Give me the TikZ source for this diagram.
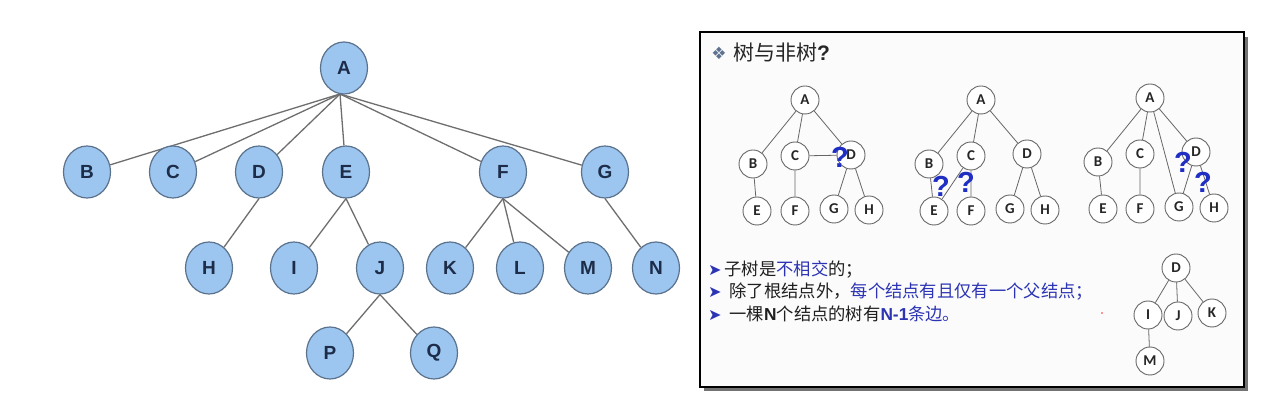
\documentclass[tikz,border=0pt]{standalone}
\usepackage{fontspec}
\setmainfont{Liberation Sans}
\newfontfamily\cjk{Noto Sans CJK SC}
\newfontfamily\djv{DejaVu Sans}
\newfontfamily\calb{Carlito}
\usetikzlibrary{shapes.geometric}
\pgfdeclarelayer{bgzero}
\pgfdeclarelayer{edgelayer}
\pgfsetlayers{bgzero,edgelayer,main}
\definecolor{nodeblue}{HTML}{9CC6F0}
\definecolor{nodeborder}{HTML}{5B728C}
\definecolor{navy}{HTML}{1D2C48}
\definecolor{edgegray}{HTML}{6E6E6E}
\definecolor{qblue}{HTML}{1F2FC4}
\definecolor{tblue}{HTML}{2C34B4}
\definecolor{orn}{HTML}{5E7290}
\tikzset{
  big/.style={ellipse, minimum width=47, minimum height=52, inner sep=0, fill=nodeblue, draw=nodeborder, line width=1.2, text=navy, font=\fontsize{19}{19}\selectfont\bfseries},
  ledge/.style={draw=edgegray, line width=1.3},
  sm/.style={circle, minimum size=28, inner sep=0, fill=white, draw=black!60, line width=0.9, text=black!85, font=\calb\fontsize{15}{15}\selectfont\bfseries},
  sedge/.style={draw=black!60, line width=0.8},
  qm/.style={text=qblue, inner sep=0, font=\fontsize{29}{29}\selectfont\bfseries},
  txt/.style={anchor=west, inner sep=0, text=black!88, font=\cjk\fontsize{17.3}{17.3}\selectfont},
  bul/.style={}
}
\newcommand{\bulmark}{{\djv\color{tblue}\fontsize{16}{16}\selectfont ➤}}
\begin{document}
\begin{tikzpicture}[x=1pt,y=-1pt]
\useasboundingbox (0,0) rectangle (1267,411);
\begin{pgfonlayer}{bgzero}
\fill[white] (0,0) rectangle (1267,411);
\end{pgfonlayer}
% ---------------- left tree
\node[big] (A) at (344,68) {A};
\node[big] (B) at (87,172) {B};
\node[big] (C) at (173,172) {C};
\node[big] (D) at (259,172) {D};
\node[big] (E) at (346,172) {E};
\node[big] (F) at (503,172) {F};
\node[big] (G) at (605,172) {G};
\node[big] (H) at (209,268) {H};
\node[big] (I) at (294,268) {I};
\node[big] (J) at (380,268) {J};
\node[big] (K) at (450,268) {K};
\node[big] (L) at (520,268) {L};
\node[big] (M) at (588,268) {M};
\node[big] (N) at (656,268) {N};
\node[big] (P) at (330,353) {P};
\node[big] (Q) at (434,353) {Q};
\coordinate (Ab) at (340,94);
\begin{pgfonlayer}{edgelayer}
\foreach \c in {B,C,D,E,F,G} \draw[ledge] (Ab) -- (\c);
\draw[ledge] (D.south) -- (H);
\draw[ledge] (E.south) -- (I);
\draw[ledge] (E.south) -- (J);
\draw[ledge] (F.south) -- (K);
\draw[ledge] (F.south) -- (L);
\draw[ledge] (F.south) -- (M);
\draw[ledge] (G.south) -- (N);
\draw[ledge] (J.south) -- (P);
\draw[ledge] (J.south) -- (Q);
\end{pgfonlayer}
% ---------------- right panel
\begin{pgfonlayer}{bgzero}
\fill[black!55] (704,37) rectangle (1248,391);
\draw[fill=black!1.5, line width=2.5] (700,32) rectangle (1244,387);
\end{pgfonlayer}
\node[inner sep=0, text=orn, font=\djv\fontsize{17}{17}\selectfont] (orn) at (719,53) {❖};
\node[anchor=west, inner sep=0, text=black!85, font=\cjk\fontsize{21}{21}\selectfont] (title) at (733,53) {树与非树{\rmfamily\bfseries ?}};
% tree 1
\node[sm] (a1) at (805,100) {A};
\node[sm] (b1) at (753,164) {B};
\node[sm] (c1) at (795,156) {C};
\node[sm] (d1) at (851,155) {D};
\node[sm] (e1) at (757,211) {E};
\node[sm] (f1) at (795,211) {F};
\node[sm] (g1) at (834,209) {G};
\node[sm] (h1) at (869,210) {H};
\begin{pgfonlayer}{edgelayer}
\draw[sedge] (a1) -- (b1) (a1) -- (c1) (a1) -- (d1) (c1) -- (d1) (b1) -- (e1) (c1) -- (f1) (d1) -- (g1) (d1) -- (h1);
\end{pgfonlayer}
\node[qm] (q1) at (840,157) {?};
% tree 2
\node[sm] (a2) at (981,100) {A};
\node[sm] (b2) at (929,164) {B};
\node[sm] (c2) at (971,156) {C};
\node[sm] (d2) at (1027,154) {D};
\node[sm] (e2) at (934,211) {E};
\node[sm] (f2) at (971,211) {F};
\node[sm] (g2) at (1010,209) {G};
\node[sm] (h2) at (1045,210) {H};
\begin{pgfonlayer}{edgelayer}
\draw[sedge] (a2) -- (b2) (a2) -- (c2) (a2) -- (d2) (b2) -- (e2) (c2) -- (e2) (c2) -- (f2) (d2) -- (g2) (d2) -- (h2);
\end{pgfonlayer}
\node[qm] (q2) at (941,186) {?};
\node[qm] (q3) at (966,182) {?};
% tree 3
\node[sm] (a3) at (1150,98) {A};
\node[sm] (b3) at (1098,162) {B};
\node[sm] (c3) at (1140,154) {C};
\node[sm] (d3) at (1196,152) {D};
\node[sm] (e3) at (1103,209) {E};
\node[sm] (f3) at (1140,209) {F};
\node[sm] (g3) at (1179,207) {G};
\node[sm] (h3) at (1214,208) {H};
\begin{pgfonlayer}{edgelayer}
\draw[sedge] (a3) -- (b3) (a3) -- (c3) (a3) -- (g3) (a3) -- (d3) (b3) -- (e3) (c3) -- (f3) (d3) -- (g3) (d3) -- (h3);
\end{pgfonlayer}
\node[qm] (q4) at (1183,162) {?};
\node[qm] (q5) at (1203,182) {?};
% small tree
\node[sm] (d4) at (1176,268) {D};
\node[sm] (i4) at (1148,315) {I};
\node[sm] (j4) at (1178,316) {J};
\node[sm] (k4) at (1212,313) {K};
\node[sm] (m4) at (1150,361) {M};
\begin{pgfonlayer}{edgelayer}
\draw[sedge] (d4) -- (i4) (d4) -- (j4) (d4) -- (k4) (i4) -- (m4);
\end{pgfonlayer}
% text lines
\node[txt] (l1) at (708,270) {\bulmark\hspace{3pt}子树是\textcolor{tblue}{不相交}的；};
\node[txt] (l2) at (708,292) {\bulmark\hspace{8pt}除了根结点外，\textcolor{tblue}{每个结点有且仅有一个父结点；}};
\node[txt] (l3) at (708,314) {\bulmark\hspace{8pt}一棵{\rmfamily\bfseries N}个结点的树有\textcolor{tblue}{{\rmfamily\bfseries N-1}条边。}};
\fill[red!80] (1102,313) circle (0.9);
\end{tikzpicture}
\end{document}
